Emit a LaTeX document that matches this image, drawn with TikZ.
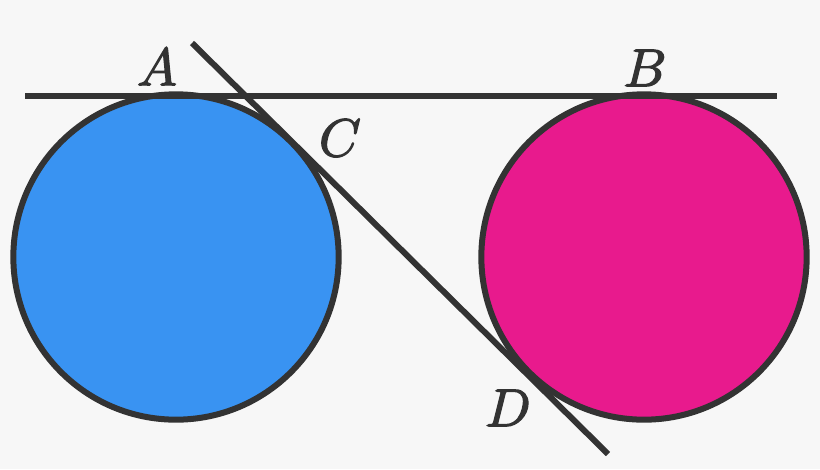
\documentclass[tikz,border=0pt]{standalone}
\usepackage{amsmath}
\usepackage{amssymb}
\usepackage{tikz}
\definecolor{bg}{RGB}{247,247,247}
\definecolor{ink}{RGB}{51,51,51}
\definecolor{blueball}{RGB}{57,147,242}
\definecolor{pinkball}{RGB}{232,26,141}
\newcommand{\heavy}[1]{\special{pdf:literal 2 Tr 0.22 w}#1\special{pdf:literal 0 Tr}}

\begin{document}
\begin{tikzpicture}[x=0.75pt, y=-0.75pt,
	tangent/.style={draw=ink, line width=4.5pt},
	ball/.style={circle, draw=ink, line width=4.5pt, minimum size=244pt, inner sep=0pt},
	lbl/.style={text=ink, scale=4, inner sep=0pt}]
			\fill[bg] (0,0) rectangle (820,469);
			\useasboundingbox (0,0) rectangle (820,469);
			\node[ball, fill=blueball] (p) at (176,257){};
			\node[ball, fill=pinkball] (q) at (644,257){};
			
			\coordinate (l1) at (25,96);
			\coordinate (l2) at (777,96);
			\coordinate (m1) at (192,43);
			\coordinate (m2) at (608,454);
			
			\path (l1) edge[tangent] (l2);
			\path (m1) edge[tangent] (m2);
			
			\node[lbl] (A) at (157,67){\heavy{$A$}};
			\node[lbl] (B) at (645,68){\heavy{$B$}};
			\node[lbl] (C) at (340,138){\heavy{$C$}};
			\node[lbl] (D) at (508,408){\heavy{$D$}};
			\end{tikzpicture}
\end{document}
